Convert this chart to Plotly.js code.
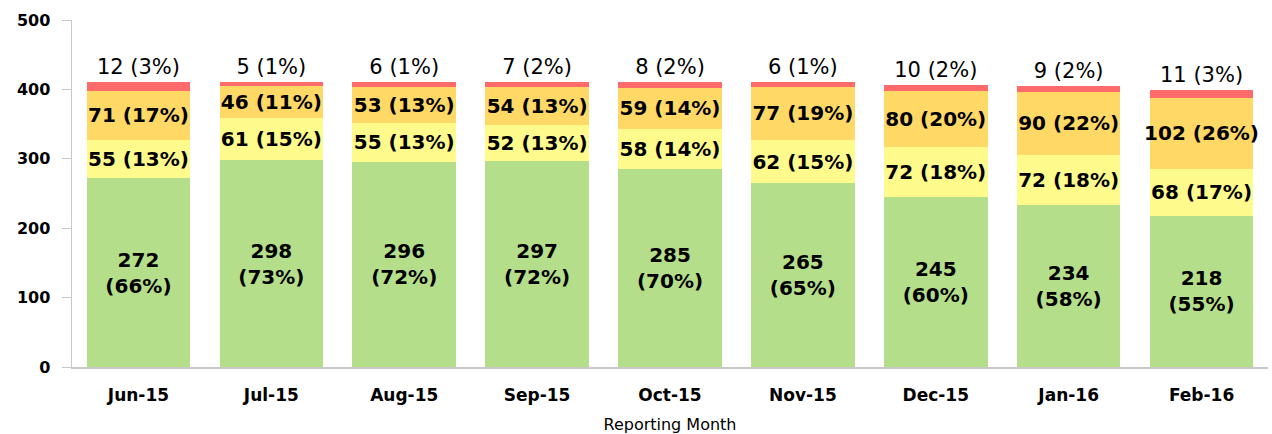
<!DOCTYPE html>
<html><head><meta charset="utf-8">
<script src="https://cdn.plot.ly/plotly-3.0.1.min.js"></script>
<style>html,body{margin:0;padding:0;background:#fff;}#chart{width:1272px;height:434px;}</style>
</head><body><div id="chart"></div>
<script>
const months = ['Jun-15','Jul-15','Aug-15','Sep-15','Oct-15','Nov-15','Dec-15','Jan-16','Feb-16'];
const greenVals = [272,298,296,297,285,265,245,234,218];
const greenPct = [66,73,72,72,70,65,60,58,55];
const yellowVals = [55,61,55,52,58,62,72,72,68];
const yellowPct = [13,15,13,13,14,15,18,18,17];
const orangeVals = [71,46,53,54,59,77,80,90,102];
const orangePct = [17,11,13,13,14,19,20,22,26];
const redVals = [12,5,6,7,8,6,10,9,11];
const redPct = [3,1,1,2,2,1,2,2,3];

const FAM = '"DejaVu Sans", Verdana, sans-serif';
const labelFont = {family:FAM, size:20, color:'#000', weight:700};
function mk(vals, pct, color, twoLine, pos){
  return {
    type:'bar', x:months, y:vals,
    marker:{color:color, line:{width:0}},
    text: vals.map((v,i)=> twoLine ? `${v}<br>(${pct[i]}%)` : `${v} (${pct[i]}%)`),
    textposition: pos, insidetextanchor:'middle', constraintext:'none',
    textfont: labelFont, outsidetextfont: labelFont, insidetextfont: labelFont,
    cliponaxis:false, hoverinfo:'none'
  };
}
const data = [
  mk(greenVals, greenPct, '#b4de8a', true, 'inside'),
  mk(yellowVals, yellowPct, '#fffa8c', false, 'inside'),
  mk(orangeVals, orangePct, '#ffd865', false, 'inside'),
  mk(redVals, redPct, '#ff6b6b', false, 'outside')
];
const redFont = {family:FAM, size:21, color:'#000'};
data[3].textfont = redFont;
data[3].outsidetextfont = redFont;

const layout = {
  width:1272, height:434,
  margin:{l:72, r:4, t:20, b:67},
  barmode:'stack', bargap:0.22, showlegend:false,
  paper_bgcolor:'#fff', plot_bgcolor:'#fff',
  font:{family:FAM, color:'#000'},
  xaxis:{
    showline:true, linecolor:'#c8c8c8', linewidth:1.5, ticks:'', showgrid:false,
    tickfont:{size:17, weight:700}, ticklabelstandoff:12,
    title:{text:'Reporting Month', font:{size:16}, standoff:18}
  },
  yaxis:{
    range:[0,500], dtick:100, showline:true, linecolor:'#c8c8c8', linewidth:1.5,
    ticks:'outside', ticklen:9, tickcolor:'#c8c8c8', showgrid:false, zeroline:false,
    tickfont:{size:16, weight:700}, ticklabelstandoff:8
  }
};
Plotly.newPlot('chart', data, layout, {staticPlot:true});
</script></body></html>
